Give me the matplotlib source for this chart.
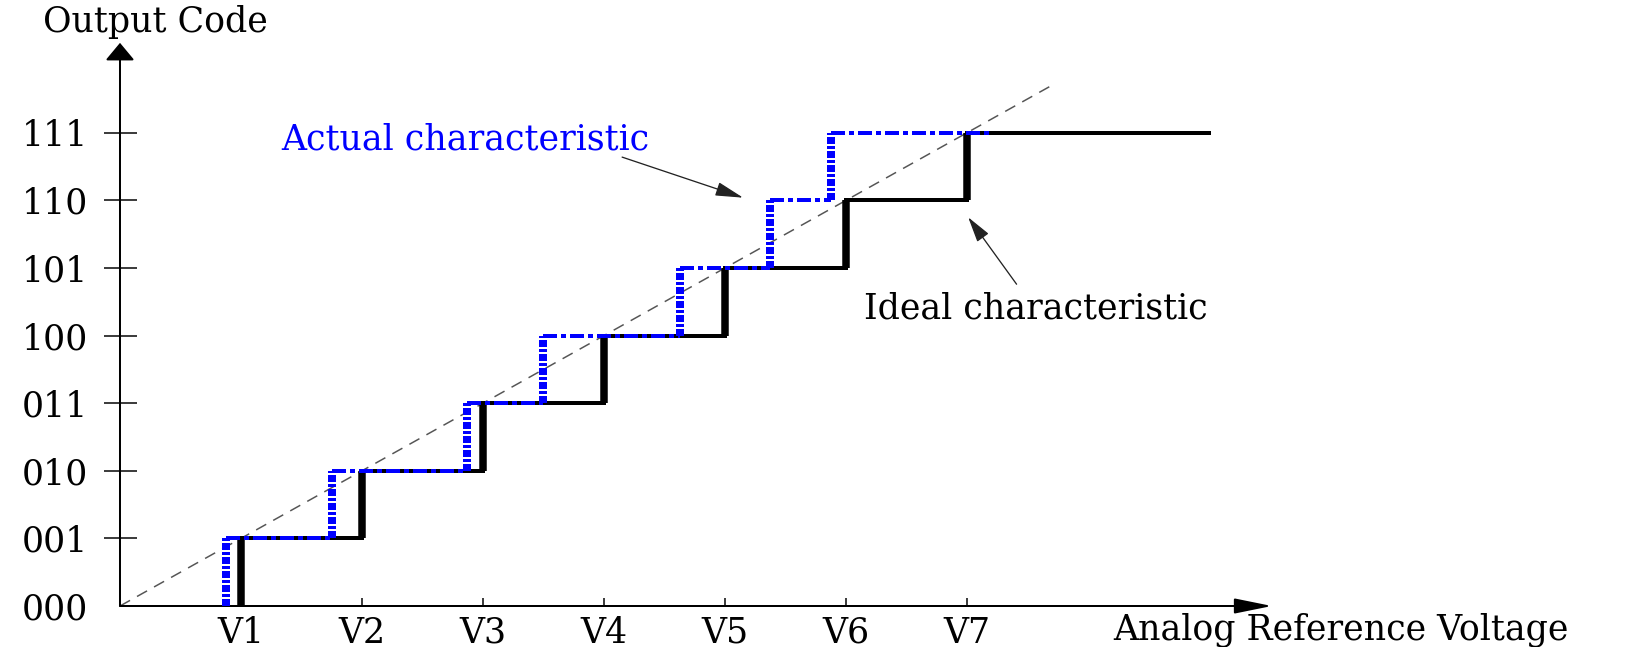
import matplotlib
matplotlib.use('Agg')
import matplotlib.pyplot as plt
import numpy as np

plt.rcParams['font.family'] = ['DejaVu Serif']
plt.rcParams['lines.scale_dashes'] = False

# ---------------- data ----------------
codes = [1, 2, 3, 4, 5, 6, 7]
code_labels = ['000', '001', '010', '011', '100', '101', '110', '111']
v_ticks = [1, 2, 3, 4, 5, 6, 7]
v_labels = ['V1', 'V2', 'V3', 'V4', 'V5', 'V6', 'V7']
ideal_steps = [1, 2, 3, 4, 5, 6, 7]
ideal_end = 9.0
actual_steps = [0.88, 1.75, 2.87, 3.50, 4.63, 5.37, 5.88]
actual_end = 7.21
diag_end = 7.71

PX = 0.72  # points per pixel at dpi 100
FS = 25

fig = plt.figure(figsize=(16.5, 6.47), dpi=100)
ax = fig.add_axes([0, 0, 1, 1])
ax.set_xlim(-0.9917, 12.645)
ax.set_ylim(-0.6065, 8.964)

for s in ['top', 'right', 'left', 'bottom']:
    ax.spines[s].set_visible(False)
ax.spines['left'].set_position(('data', 0))
ax.spines['bottom'].set_position(('data', 0))

# axes arrows
ax.annotate('', xy=(9.52, 0), xytext=(0, 0),
            arrowprops=dict(arrowstyle='-|>,head_length=%f,head_width=%f' % (32 * PX, 6.5 * PX),
                            mutation_scale=1, lw=2 * PX, color='black',
                            shrinkA=0, shrinkB=0), annotation_clip=False)
ax.annotate('', xy=(0, 8.33), xytext=(0, 0),
            arrowprops=dict(arrowstyle='-|>,head_length=%f,head_width=%f' % (15 * PX, 12.5 * PX),
                            mutation_scale=1, lw=2 * PX, color='black',
                            shrinkA=0, shrinkB=0), annotation_clip=False)

# ticks
ax.set_yticks(range(len(code_labels)), code_labels)
ax.set_xticks(v_ticks, v_labels)
ax.tick_params(axis='y', direction='inout', length=33 * PX, width=1.5 * PX,
               pad=15.5 * PX, labelsize=FS, colors='black')
ax.tick_params(axis='x', direction='in', length=8 * PX, width=1.5 * PX,
               pad=10 * PX, labelsize=FS, colors='black')
ax.yaxis.get_major_ticks()[0].tick1line.set_visible(False)

# diagonal reference line
ax.plot([0, diag_end], [0, diag_end], color='#555555', lw=1.5 * PX,
        ls=(0, (11.5 * PX, 8 * PX)), zorder=1)

# ideal characteristic (black)
ideal_ends = ideal_steps[1:] + [ideal_end]
ax.hlines(codes, ideal_steps, ideal_ends, colors='black', lw=4 * PX,
          capstyle='projecting', zorder=2)
ax.vlines(ideal_steps, np.array(codes) - 1, codes, colors='black', lw=7.5 * PX,
          zorder=2)

# actual characteristic (blue dash-dot)
actual_ends = actual_steps[1:] + [actual_end]
ax.hlines(codes, actual_steps, actual_ends, colors='#0000ff', lw=4 * PX,
          linestyles=[(0, (14 * PX, 4 * PX, 5 * PX, 4 * PX))], zorder=3)
ax.vlines(actual_steps, np.array(codes) - 1, codes, colors='#0000ff', lw=8 * PX,
          linestyles=[(0, (7 * PX, 2 * PX, 3 * PX, 2 * PX))], zorder=3)

# texts
ax.text(0.29, 8.49, 'Output Code', fontsize=FS, ha='center', va='baseline')
ax.text(10.09, -0.50, 'Analog Reference Voltage', fontsize=FS, ha='center', va='baseline')
ax.text(2.85, 6.75, 'Actual characteristic', fontsize=FS, color='#0000ff',
        ha='center', va='baseline')
ax.text(7.57, 4.26, 'Ideal characteristic', fontsize=FS, ha='center', va='baseline')

# pointer arrows
ax.annotate('', xy=(5.15, 6.04), xytext=(4.15, 6.64),
            arrowprops=dict(arrowstyle='-|>,head_length=%f,head_width=%f' % (24 * PX, 6 * PX),
                            mutation_scale=1, lw=1.3 * PX, color='#222222',
                            shrinkA=0, shrinkB=0))
ax.annotate('', xy=(7.01, 5.75), xytext=(7.41, 4.76),
            arrowprops=dict(arrowstyle='-|>,head_length=%f,head_width=%f' % (22 * PX, 6 * PX),
                            mutation_scale=1, lw=1.3 * PX, color='#222222',
                            shrinkA=0, shrinkB=0))

fig.savefig('out.png', dpi=100)
